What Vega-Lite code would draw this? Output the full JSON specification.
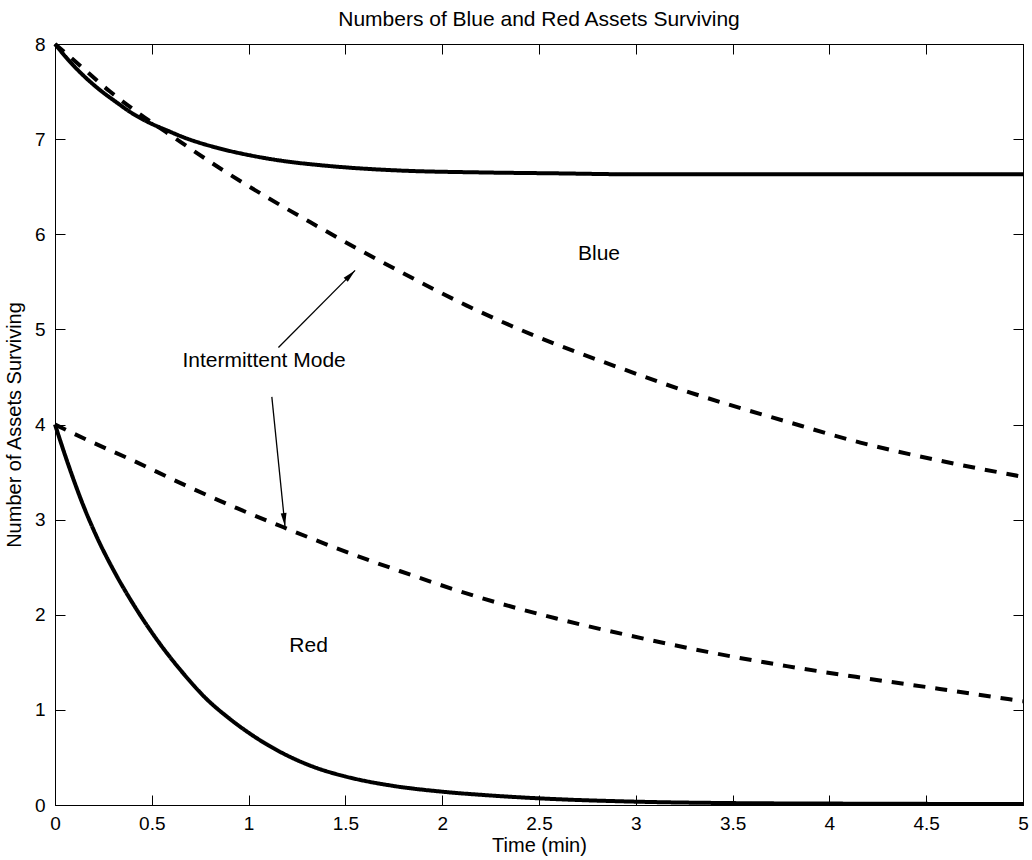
{
  "$schema": "https://vega.github.io/schema/vega-lite/v6.json",
  "width": 968,
  "height": 761,
  "autosize": {"type": "none"},
  "padding": {"left": 55, "top": 44, "right": 9, "bottom": 55},
  "background": "white",
  "config": {
    "view": {"stroke": "black", "strokeWidth": 1},
    "font": "Liberation Sans",
    "axis": {
      "grid": false,
      "domain": true,
      "domainColor": "black",
      "domainWidth": 1,
      "tickColor": "black",
      "tickWidth": 1,
      "tickSize": -10,
      "labelColor": "black",
      "titleColor": "black",
      "labelFont": "Liberation Sans",
      "titleFont": "Liberation Sans",
      "labelFontSize": 19,
      "titleFontSize": 20,
      "titleFontWeight": "normal",
      "labelFlush": false,
      "labelOverlap": false
    }
  },
  "title": {
    "text": "Numbers of Blue and Red Assets Surviving",
    "fontSize": 21,
    "fontWeight": "normal",
    "font": "Liberation Sans",
    "anchor": "middle",
    "baseline": "bottom",
    "offset": -16,
    "color": "black"
  },
  "resolve": {"axis": {"x": "independent", "y": "independent"}},
  "layer": [
    {
      "data": {
        "values": [
          {"series": "Blue", "mode": "Continuous", "t": 0, "v": 8.0},
          {"series": "Blue", "mode": "Continuous", "t": 0.07, "v": 7.83},
          {"series": "Blue", "mode": "Continuous", "t": 0.146, "v": 7.67},
          {"series": "Blue", "mode": "Continuous", "t": 0.23, "v": 7.52},
          {"series": "Blue", "mode": "Continuous", "t": 0.319, "v": 7.385},
          {"series": "Blue", "mode": "Continuous", "t": 0.4, "v": 7.27},
          {"series": "Blue", "mode": "Continuous", "t": 0.49, "v": 7.17},
          {"series": "Blue", "mode": "Continuous", "t": 0.58, "v": 7.09},
          {"series": "Blue", "mode": "Continuous", "t": 0.663, "v": 7.02},
          {"series": "Blue", "mode": "Continuous", "t": 0.835, "v": 6.91},
          {"series": "Blue", "mode": "Continuous", "t": 1.007, "v": 6.83},
          {"series": "Blue", "mode": "Continuous", "t": 1.18, "v": 6.77},
          {"series": "Blue", "mode": "Continuous", "t": 1.35, "v": 6.73},
          {"series": "Blue", "mode": "Continuous", "t": 1.52, "v": 6.7},
          {"series": "Blue", "mode": "Continuous", "t": 1.78, "v": 6.67},
          {"series": "Blue", "mode": "Continuous", "t": 2.2, "v": 6.65},
          {"series": "Blue", "mode": "Continuous", "t": 2.6, "v": 6.64},
          {"series": "Blue", "mode": "Continuous", "t": 3.0, "v": 6.63},
          {"series": "Blue", "mode": "Continuous", "t": 4.0, "v": 6.63},
          {"series": "Blue", "mode": "Continuous", "t": 5.0, "v": 6.63},
          {"series": "Blue", "mode": "Intermittent", "t": 0, "v": 8.0},
          {"series": "Blue", "mode": "Intermittent", "t": 0.12, "v": 7.79},
          {"series": "Blue", "mode": "Intermittent", "t": 0.284, "v": 7.5},
          {"series": "Blue", "mode": "Intermittent", "t": 0.42, "v": 7.29},
          {"series": "Blue", "mode": "Intermittent", "t": 0.62, "v": 7.01},
          {"series": "Blue", "mode": "Intermittent", "t": 0.87, "v": 6.67},
          {"series": "Blue", "mode": "Intermittent", "t": 1.094, "v": 6.39},
          {"series": "Blue", "mode": "Intermittent", "t": 1.35, "v": 6.09},
          {"series": "Blue", "mode": "Intermittent", "t": 1.56, "v": 5.85},
          {"series": "Blue", "mode": "Intermittent", "t": 1.78, "v": 5.61},
          {"series": "Blue", "mode": "Intermittent", "t": 2.127, "v": 5.25},
          {"series": "Blue", "mode": "Intermittent", "t": 2.505, "v": 4.91},
          {"series": "Blue", "mode": "Intermittent", "t": 2.884, "v": 4.62},
          {"series": "Blue", "mode": "Intermittent", "t": 3.245, "v": 4.36},
          {"series": "Blue", "mode": "Intermittent", "t": 3.78, "v": 4.03},
          {"series": "Blue", "mode": "Intermittent", "t": 4.16, "v": 3.81},
          {"series": "Blue", "mode": "Intermittent", "t": 4.57, "v": 3.62},
          {"series": "Blue", "mode": "Intermittent", "t": 5.0, "v": 3.45},
          {"series": "Red", "mode": "Continuous", "t": 0, "v": 4.0},
          {"series": "Red", "mode": "Continuous", "t": 0.07, "v": 3.57},
          {"series": "Red", "mode": "Continuous", "t": 0.14, "v": 3.18},
          {"series": "Red", "mode": "Continuous", "t": 0.22, "v": 2.8},
          {"series": "Red", "mode": "Continuous", "t": 0.31, "v": 2.44},
          {"series": "Red", "mode": "Continuous", "t": 0.42, "v": 2.06},
          {"series": "Red", "mode": "Continuous", "t": 0.54, "v": 1.7},
          {"series": "Red", "mode": "Continuous", "t": 0.66, "v": 1.39},
          {"series": "Red", "mode": "Continuous", "t": 0.78, "v": 1.12},
          {"series": "Red", "mode": "Continuous", "t": 0.9, "v": 0.91},
          {"series": "Red", "mode": "Continuous", "t": 1.0, "v": 0.76},
          {"series": "Red", "mode": "Continuous", "t": 1.1, "v": 0.63},
          {"series": "Red", "mode": "Continuous", "t": 1.21, "v": 0.51},
          {"series": "Red", "mode": "Continuous", "t": 1.35, "v": 0.39},
          {"series": "Red", "mode": "Continuous", "t": 1.5, "v": 0.3},
          {"series": "Red", "mode": "Continuous", "t": 1.75, "v": 0.2},
          {"series": "Red", "mode": "Continuous", "t": 2.0, "v": 0.14},
          {"series": "Red", "mode": "Continuous", "t": 2.25, "v": 0.1},
          {"series": "Red", "mode": "Continuous", "t": 2.5, "v": 0.07},
          {"series": "Red", "mode": "Continuous", "t": 3.0, "v": 0.035},
          {"series": "Red", "mode": "Continuous", "t": 3.5, "v": 0.02},
          {"series": "Red", "mode": "Continuous", "t": 4.0, "v": 0.015},
          {"series": "Red", "mode": "Continuous", "t": 5.0, "v": 0.01},
          {"series": "Red", "mode": "Intermittent", "t": 0, "v": 4.0},
          {"series": "Red", "mode": "Intermittent", "t": 0.164, "v": 3.84},
          {"series": "Red", "mode": "Intermittent", "t": 0.404, "v": 3.62},
          {"series": "Red", "mode": "Intermittent", "t": 0.663, "v": 3.37},
          {"series": "Red", "mode": "Intermittent", "t": 0.94, "v": 3.12},
          {"series": "Red", "mode": "Intermittent", "t": 1.18, "v": 2.92},
          {"series": "Red", "mode": "Intermittent", "t": 1.44, "v": 2.71},
          {"series": "Red", "mode": "Intermittent", "t": 1.78, "v": 2.46},
          {"series": "Red", "mode": "Intermittent", "t": 2.18, "v": 2.19},
          {"series": "Red", "mode": "Intermittent", "t": 2.59, "v": 1.96},
          {"series": "Red", "mode": "Intermittent", "t": 2.97, "v": 1.78},
          {"series": "Red", "mode": "Intermittent", "t": 3.37, "v": 1.61},
          {"series": "Red", "mode": "Intermittent", "t": 3.78, "v": 1.46},
          {"series": "Red", "mode": "Intermittent", "t": 4.16, "v": 1.34},
          {"series": "Red", "mode": "Intermittent", "t": 4.57, "v": 1.22},
          {"series": "Red", "mode": "Intermittent", "t": 5.0, "v": 1.09}
        ]
      },
      "mark": {"type": "line", "color": "black", "strokeWidth": 4, "interpolate": "monotone"},
      "encoding": {
        "x": {
          "field": "t",
          "type": "quantitative",
          "scale": {"domain": [0, 5], "nice": false, "zero": false},
          "axis": {
            "orient": "bottom",
            "values": [0, 0.5, 1, 1.5, 2, 2.5, 3, 3.5, 4, 4.5, 5],
            "format": "~g",
            "title": "Time (min)",
            "labelPadding": 19,
            "titlePadding": 2
          }
        },
        "y": {
          "field": "v",
          "type": "quantitative",
          "scale": {"domain": [0, 8], "nice": false},
          "axis": {
            "orient": "left",
            "values": [0, 1, 2, 3, 4, 5, 6, 7, 8],
            "format": "~g",
            "title": "Number of Assets Surviving",
            "labelPadding": 20,
            "titlePadding": 10
          }
        },
        "detail": {"field": "series", "type": "nominal"},
        "strokeDash": {
          "field": "mode",
          "type": "nominal",
          "scale": {"domain": ["Continuous", "Intermittent"], "range": [[1, 0], [12, 10]]},
          "legend": null
        }
      }
    },
    {
      "data": {
        "values": [
          {"t": 1.154, "v": 4.81, "t2": 1.55, "v2": 5.62},
          {"t": 1.12, "v": 4.29, "t2": 1.188, "v2": 2.93}
        ]
      },
      "mark": {"type": "rule", "color": "black", "strokeWidth": 1.3},
      "encoding": {
        "x": {"field": "t", "type": "quantitative", "axis": null},
        "y": {"field": "v", "type": "quantitative", "axis": null},
        "x2": {"field": "t2"},
        "y2": {"field": "v2"}
      }
    },
    {
      "data": {
        "values": [
          {"t": 1.55, "v": 5.62, "ang": 45},
          {"t": 1.188, "v": 2.93, "ang": 174}
        ]
      },
      "mark": {"type": "point", "shape": "M0,0L0.22,1L-0.22,1Z", "filled": true, "color": "black", "opacity": 1, "size": 700, "strokeWidth": 0},
      "encoding": {
        "x": {"field": "t", "type": "quantitative", "axis": null},
        "y": {"field": "v", "type": "quantitative", "axis": null},
        "angle": {"field": "ang", "type": "quantitative", "scale": null}
      }
    },
    {
      "data": {
        "values": [
          {"t": 2.81, "v": 5.79, "label": "Blue"},
          {"t": 1.31, "v": 1.67, "label": "Red"},
          {"t": 1.08, "v": 4.67, "label": "Intermittent Mode"}
        ]
      },
      "mark": {"type": "text", "fontSize": 21, "font": "Liberation Sans", "color": "black", "baseline": "middle", "align": "center"},
      "encoding": {
        "x": {
          "field": "t",
          "type": "quantitative",
          "axis": {"orient": "top", "values": [0, 0.5, 1, 1.5, 2, 2.5, 3, 3.5, 4, 4.5, 5], "labels": false, "title": null}
        },
        "y": {
          "field": "v",
          "type": "quantitative",
          "axis": {"orient": "right", "values": [0, 1, 2, 3, 4, 5, 6, 7, 8], "labels": false, "title": null}
        },
        "text": {"field": "label"}
      }
    }
  ]
}
